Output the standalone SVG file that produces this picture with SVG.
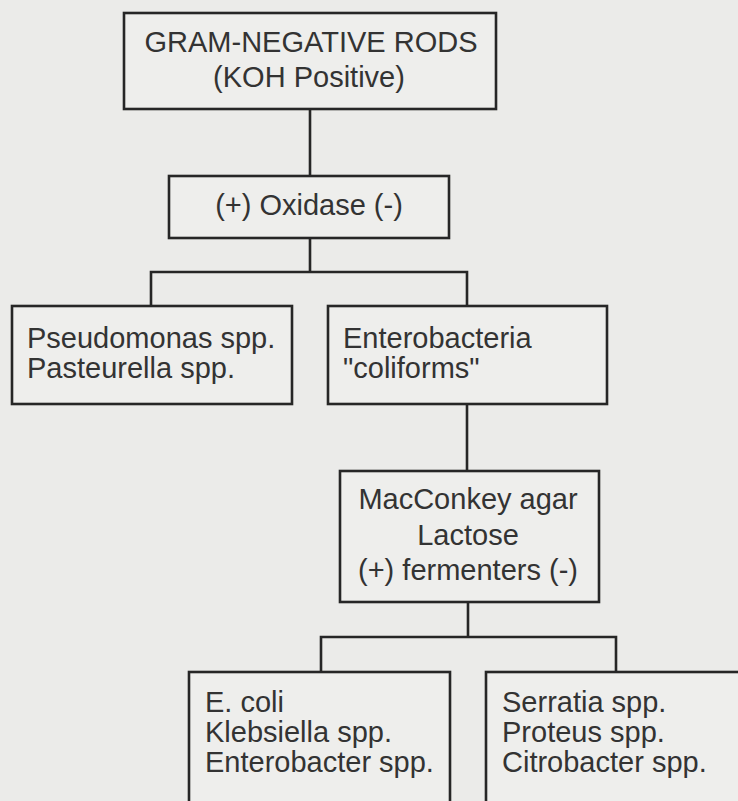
<svg xmlns="http://www.w3.org/2000/svg" width="738" height="801" viewBox="0 0 738 801">
<style>
.bg{fill:#ebebe9}
.box{fill:#eeeeec;stroke:#262626;stroke-width:2.6}
.edge{fill:none;stroke:#262626;stroke-width:2.6;stroke-linecap:square}
text{font-family:"Liberation Sans",Arial,sans-serif;font-size:29px;fill:#333333}
.c{text-anchor:middle}
</style>
<rect class="bg" x="0" y="0" width="738" height="801"/>
<g id="connectors">
<path class="edge" d="M310,109 V176"/>
<path class="edge" d="M310,238 V272 M151,272 H467 M151,272 V306 M467,272 V306"/>
<path class="edge" d="M467,404 V471"/>
<path class="edge" d="M468,602 V637 M321,637 H616 M321,637 V672 M616,637 V672"/>
</g>
<g id="n-gram">
<rect class="box" x="124" y="13" width="372" height="96"/>
<text class="c" x="311" y="52">GRAM-NEGATIVE RODS</text>
<text class="c" x="309" y="87">(KOH Positive)</text>
</g>
<g id="n-oxidase">
<rect class="box" x="169" y="176" width="280" height="62"/>
<text class="c" x="309" y="215">(+) Oxidase (-)</text>
</g>
<g id="n-pseudomonas">
<rect class="box" x="12" y="306" width="280" height="98"/>
<text x="27" y="348">Pseudomonas spp.</text>
<text x="27" y="378">Pasteurella spp.</text>
</g>
<g id="n-enterobacteria">
<rect class="box" x="328" y="306" width="279" height="98"/>
<text x="343" y="348">Enterobacteria</text>
<text x="343" y="378">"coliforms"</text>
</g>
<g id="n-macconkey">
<rect class="box" x="340" y="471" width="259" height="131"/>
<text class="c" x="468" y="509">MacConkey agar</text>
<text class="c" x="468" y="545">Lactose</text>
<text class="c" x="468" y="580">(+) fermenters (-)</text>
</g>
<g id="n-lactose-pos">
<rect class="box" x="189" y="672" width="261" height="150"/>
<text x="205" y="712">E. coli</text>
<text x="205" y="742">Klebsiella spp.</text>
<text x="205" y="772">Enterobacter spp.</text>
</g>
<g id="n-lactose-neg">
<rect class="box" x="486" y="672" width="300" height="150"/>
<text x="502" y="712">Serratia spp.</text>
<text x="502" y="742">Proteus spp.</text>
<text x="502" y="772">Citrobacter spp.</text>
</g>
</svg>
